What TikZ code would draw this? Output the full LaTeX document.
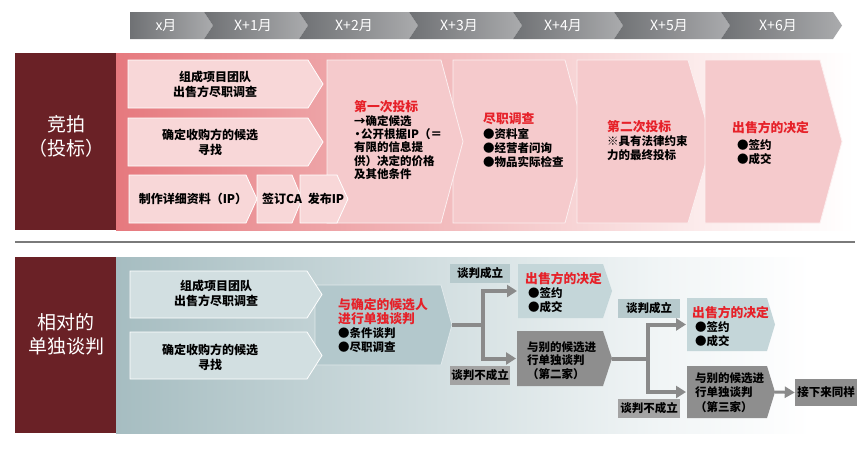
\documentclass[tikz,border=0pt]{standalone}
\usepackage{fontspec}
\setmainfont{Noto Sans CJK SC}
\usetikzlibrary{arrows.meta}
\definecolor{dred}{HTML}{6A2126}
\definecolor{tlD}{HTML}{6F7174}
\definecolor{tlL}{HTML}{AAABAD}
\definecolor{pkA}{HTML}{E6797E}
\definecolor{pkB}{HTML}{F2BBBD}
\definecolor{pkC}{HTML}{FCEDED}
\definecolor{chevPk}{HTML}{F5CACC}
\definecolor{chevPkS}{HTML}{F8D7D8}
\definecolor{hred}{HTML}{E62129}
\definecolor{blA}{HTML}{A6BDC1}
\definecolor{blB}{HTML}{D3DFE1}
\definecolor{blC}{HTML}{F1F5F6}
\definecolor{chevBlS}{HTML}{D2DFE1}
\definecolor{chevBlB}{HTML}{B3C8CC}
\definecolor{chevBlD}{HTML}{C4D6D9}
\definecolor{lblBl}{HTML}{B7CACD}
\definecolor{grayBox}{HTML}{8E8E8E}
\definecolor{grayLbl}{HTML}{A3A3A3}
\definecolor{arrG}{HTML}{8A8A8A}
\definecolor{sepG}{HTML}{7A7A7A}
\pgfdeclarehorizontalshading{pinkbg}{100bp}{color(0bp)=(pkA); color(25bp)=(pkA); color(47bp)=(pkB); color(65bp)=(pkC); color(75bp)=(white); color(100bp)=(white)}
\pgfdeclarehorizontalshading{bluebg}{100bp}{color(0bp)=(blA); color(25bp)=(blA); color(47bp)=(blB); color(62bp)=(blC); color(72bp)=(white); color(100bp)=(white)}
% chevron: style, x0, y0, xtip, y1, depth
\newcommand\chev[6]{\path[#1] (#2,#3) -- ({#4-#6},#3) -- (#4,{(#3+#5)/2}) -- ({#4-#6},#5) -- (#2,#5) -- cycle;}
% timeline segment with notch: previous tip, tip, depth
\newcommand\tseg[3]{\shade[left color=tlD,right color=tlL] ({#1-#3},12) -- ({#2-#3},12) -- (#2,25.5) -- ({#2-#3},39) -- ({#1-#3},39) -- (#1,25.5) -- cycle;}
\newcommand\hd[1]{\textcolor{hred}{\fontsize{12.8}{14}\selectfont #1}}
\newcommand\smallbul{\makebox[7pt][c]{•}}
\begin{document}
\begin{tikzpicture}[x=1pt,y=-1pt,
  txt/.style={font=\fontsize{12}{15}\selectfont\bfseries, inner sep=0pt, text=black, align=center},
  btxt/.style={font=\fontsize{11.5}{14}\selectfont\bfseries, inner sep=0pt, text=black, align=left, anchor=north west},
  tl/.style={font=\fontsize{14}{15}\selectfont, text=white, inner sep=0pt},
  ttl/.style={font=\fontsize{19}{24}\selectfont, text=white, align=center, inner sep=0pt},
  pkS/.style={fill=chevPkS, draw=white, line width=0.8pt},
  pkB/.style={fill=chevPk, draw=white!70!chevPk, line width=0.8pt},
  blS/.style={fill=chevBlS, draw=white, line width=0.8pt},
  blB/.style={fill=chevBlB, draw=white!60!chevBlB, line width=0.8pt},
  blD/.style={fill=chevBlD},
  grB/.style={fill=grayBox},
  lbl/.style={font=\fontsize{11.5}{14}\selectfont\bfseries, inner sep=0pt, minimum height=19pt, text=black},
  conn/.style={draw=arrG, line width=4pt},
  arr/.style={conn, -{Triangle[length=10pt,width=12pt]}}
]
\useasboundingbox (0,0) rectangle (865,471);
\fill[white] (0,0) rectangle (865,471);

% ---------------- timeline
\shade[left color=tlD,right color=tlL] (130,12) -- (204,12) -- (213,25.5) -- (204,39) -- (130,39) -- cycle;
\tseg{213}{308}{9}
\tseg{308}{418}{9}
\tseg{418}{522}{9}
\tseg{522}{623}{9}
\tseg{623}{730}{9}
\tseg{730}{842}{9}
\node[tl] (t0) at (166,25.5) {x月};
\node[tl] (t1) at (253,25.5) {X+1月};
\node[tl] (t2) at (354,25.5) {X+2月};
\node[tl] (t3) at (459,25.5) {X+3月};
\node[tl] (t4) at (563,25.5) {X+4月};
\node[tl] (t5) at (669,25.5) {X+5月};
\node[tl] (t6) at (778,25.5) {X+6月};

% ---------------- top section
\fill[dred] (15,53) rectangle (116,230);
\node[ttl] (ttop) at (66,136) {竞拍\\（投标）};
\path[shading=pinkbg] (116,53) rectangle (855,230);

\chev{pkB}{453}{60}{587}{223}{22}
\chev{pkB}{327}{60}{463}{223}{22}
\chev{pkB}{577}{60}{712}{223}{24}
\chev{pkB}{705}{60}{842}{223}{22}

\chev{pkS}{128}{60}{323}{108}{15}
\chev{pkS}{128}{118}{323}{166}{15}
\chev{pkS}{129}{175}{257}{223}{11}
\chev{pkS}{257}{175}{302}{223}{10}
\chev{pkS}{300}{175}{348}{223}{11}

\node[txt] (a1) at (215,84) {组成项目团队\\出售方尽职调查};
\node[txt] (a2) at (210,142) {确定收购方的候选\\寻找};
\node[txt] (a3) at (193,199) {制作详细资料（IP）};
\node[txt] (a4) at (282,199) {签订CA};
\node[txt] (a5) at (326,199) {发布IP};

\node[btxt, font=\fontsize{11.5}{13.4}\selectfont\bfseries] (b1) at (354,100.5) {\hd{第一次投标}\\→确定候选\\\smallbul 公开根据IP（＝\\有限的信息提\\供）决定的价格\\及其他条件};
\node[btxt, font=\fontsize{11.5}{14.4}\selectfont\bfseries] (b2) at (483,112.5) {\hd{尽职调查}\\●资料室\\●经营者问询\\●物品实际检查};
\node[btxt] (b3) at (607,120.5) {\hd{第二次投标}\\※具有法律约束\\力的最终投标};
\node[btxt] (b4) at (732,121.5) {\hd{出售方的决定}\\[3pt]\hspace*{5pt}●签约\\\hspace*{5pt}●成交};

% separator
\draw[sepG, line width=1.5pt] (15,242) -- (855,242);

% ---------------- bottom section
\fill[dred] (15,257) rectangle (116,433);
\node[ttl] (tbot) at (66,334) {相对的\\单独谈判};
\path[shading=bluebg] (116,257) rectangle (855,433);

\chev{blB}{315}{285}{452}{365}{11}
\chev{blS}{130}{271}{322}{318}{15}
\chev{blS}{130}{332}{322}{379}{15}
\node[txt] (c1) at (216,293) {组成项目团队\\出售方尽职调查};
\node[txt] (c2) at (210,357) {确定收购方的候选\\寻找};
\node[btxt] (c3) at (338,298.5) {\hd{与确定的候选人}\\\hd{进行单独谈判}\\●条件谈判\\●尽职调查};

\chev{blD}{518}{264}{612}{318}{9}
\chev{grB}{517}{331}{612}{386}{9}
\chev{blD}{687}{298}{775}{351}{8}
\chev{grB}{687}{366}{775}{418}{8}

\node[lbl, fill=lblBl, minimum width=60pt] (d1) at (480,273.5) {谈判成立};
\node[lbl, fill=grayLbl, minimum width=60pt] (d2) at (480,375.5) {谈判不成立};
\node[lbl, fill=lblBl, minimum width=62pt] (d3) at (649,308) {谈判成立};
\node[lbl, fill=grayLbl, minimum width=62pt] (d4) at (649,408.5) {谈判不成立};
\node[lbl, fill=grayBox, minimum width=62pt, minimum height=27pt] (g) at (826,392.5) {接下来同样};

\node[btxt] (e1) at (525,272.5) {\hd{出售方的决定}\\\hspace*{3pt}●签约\\\hspace*{3pt}●成交};
\node[btxt, font=\fontsize{11.5}{13.5}\selectfont\bfseries] (f1) at (527,341) {与别的候选进\\行单独谈判\\（第二家）};
\node[btxt] (e2) at (692,306.5) {\hd{出售方的决定}\\\hspace*{3pt}●签约\\\hspace*{3pt}●成交};
\node[btxt, font=\fontsize{11.5}{14.5}\selectfont\bfseries] (f2) at (695,372) {与别的候选进\\行单独谈判\\（第三家）};

% connectors
\coordinate (c3tip) at (452,325);
\coordinate (j1) at (483,325);
\coordinate (e1w) at (517,291);
\coordinate (f1w) at (516,358.5);
\coordinate (f1tip) at (612,358.5);
\coordinate (j2) at (648,358.5);
\coordinate (e2w) at (686,324.5);
\coordinate (f2w) at (686,392);
\coordinate (f2tip) at (775,392);
\draw[conn] (c3tip) -- (j1);
\draw[arr] (j1) |- (e1w);
\draw[arr] (j1) |- (f1w);
\draw[conn] (f1tip) -- (j2);
\draw[arr] (j2) |- (e2w);
\draw[arr] (j2) |- (f2w);
\draw[draw=arrG, line width=3pt, -{Triangle[length=10pt,width=11pt]}] (f2tip) -- (g.west);
\end{tikzpicture}
\end{document}
